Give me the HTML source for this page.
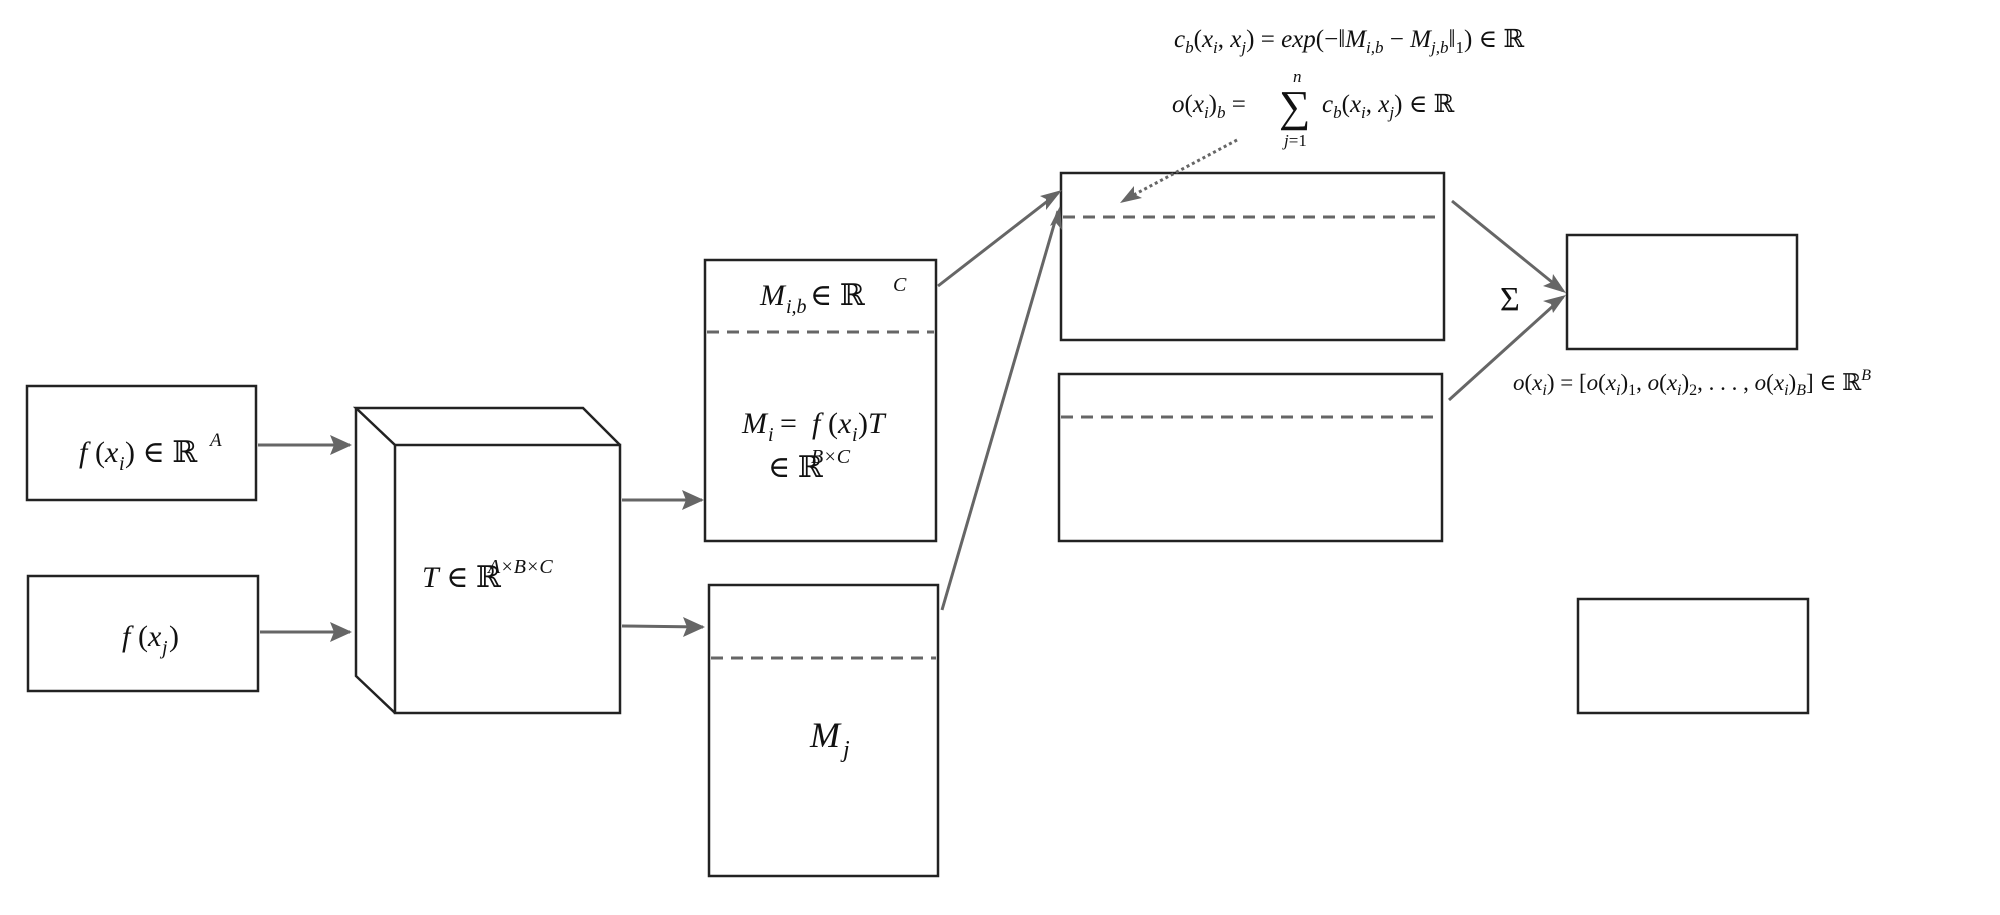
<!DOCTYPE html>
<html><head><meta charset="utf-8"><style>
html,body{margin:0;padding:0;background:#fff;}
svg{display:block;}
text{font-family:"Liberation Serif","DejaVu Serif",serif;fill:#111;}
.i{font-style:italic;}
</style></head><body>
<svg width="2000" height="915" viewBox="0 0 2000 915" xmlns="http://www.w3.org/2000/svg">
<defs>
<marker id="ah" markerWidth="10" markerHeight="10" refX="8" refY="5" orient="auto" markerUnits="userSpaceOnUse">
<path d="M0,0 L10,5 L0,10 L3,5 Z" fill="#666" transform="scale(2.2) translate(-4.5,-2.7)"/>
</marker>
</defs>
<g fill="none" stroke="#222" stroke-width="2.5">
<rect x="27" y="386" width="229" height="114"/>
<rect x="28" y="576" width="230" height="115"/>
<rect x="395" y="445" width="225" height="268"/>
<polyline points="395,445 356,408 583,408 620,445"/>
<polyline points="356,408 356,676 395,713"/>
<rect x="705" y="260" width="231" height="281"/>
<rect x="709" y="585" width="229" height="291"/>
<rect x="1061" y="173" width="383" height="167"/>
<rect x="1059" y="374" width="383" height="167"/>
<rect x="1567" y="235" width="230" height="114"/>
<rect x="1578" y="599" width="230" height="114"/>
</g>
<g stroke="#666" stroke-width="3" stroke-dasharray="12,8" fill="none">
<line x1="707" y1="332" x2="934" y2="332"/>
<line x1="711" y1="658" x2="936" y2="658"/>
<line x1="1063" y1="217" x2="1442" y2="217"/>
<line x1="1061" y1="417" x2="1440" y2="417"/>
</g>
<g stroke="#666" stroke-width="3" fill="none">
<line x1="258" y1="445" x2="350" y2="445"/>
<line x1="260" y1="632" x2="350" y2="632"/>
<line x1="622" y1="500" x2="702" y2="500"/>
<line x1="622" y1="626" x2="703" y2="627"/>
<line x1="938" y1="286" x2="1058" y2="193"/>
<line x1="942" y1="610" x2="1058" y2="211"/>
<line x1="1452" y1="201" x2="1563" y2="291"/>
<line x1="1449" y1="400" x2="1563" y2="297"/>
<line x1="1237" y1="140" x2="1126" y2="199" stroke-dasharray="3,3"/>
</g>
<g fill="#666">
<polygon points="352,445 330,435 334,445 330,455"/>
<polygon points="352,632 330,622 334,632 330,642"/>
<polygon points="704,500 682,490 686,500 682,510"/>
<polygon points="705,627 683,617 687,627 683,637"/>
<polygon points="1062,190 1040,196 1046,199 1046,210" />
<polygon points="1060,206 1050,226 1056,223 1062,230"/>
<polygon points="1566,293 1553,274 1552,282 1543,286"/>
<polygon points="1566,295 1543,301 1551,304 1553,313"/>
<polygon points="1120,203 1134,186 1134,194 1142,198"/>
</g>
<g font-size="30">
<text x="79" y="462" class="i">f</text><text x="95" y="462">(</text><text x="105" y="462" class="i">x</text><text x="119" y="470" font-size="20" class="i">i</text><text x="125" y="462">) ∈ ℝ</text><text x="210" y="446" font-size="19" class="i">A</text>
<text x="122" y="646" class="i">f</text><text x="138" y="646">(</text><text x="148" y="646" class="i">x</text><text x="162" y="654" font-size="20" class="i">j</text><text x="169" y="646">)</text>
<text x="422" y="587" font-size="30"><tspan class="i">T</tspan> ∈ ℝ</text><text x="488" y="573" font-size="20" class="i">A×B×C</text>
<text x="760" y="305" class="i">M</text><text x="786" y="313" font-size="20" class="i">i,b</text><text x="810" y="305"> ∈ ℝ</text><text x="893" y="291" font-size="20" class="i">C</text>
<text x="742" y="433" class="i">M</text><text x="768" y="441" font-size="20" class="i">i</text><text x="780" y="433"> = </text><text x="812" y="433" class="i">f</text><text x="828" y="433">(</text><text x="838" y="433" class="i">x</text><text x="852" y="441" font-size="20" class="i">i</text><text x="858" y="433">)</text><text x="868" y="433" class="i">T</text>
<text x="768" y="477">∈ ℝ</text><text x="811" y="463" font-size="20" class="i">B×C</text>
<text x="810" y="747" font-size="36" class="i">M</text><text x="843" y="757" font-size="24" class="i">j</text>
<text x="1500" y="310" font-size="34" font-family="DejaVu Sans, sans-serif">Σ</text>
</g>
<g font-size="25">
<text x="1174" y="47"><tspan class="i">c</tspan><tspan font-size="17" class="i" dy="6">b</tspan><tspan dy="-6">(</tspan><tspan class="i">x</tspan><tspan font-size="17" class="i" dy="6">i</tspan><tspan dy="-6">, </tspan><tspan class="i">x</tspan><tspan font-size="17" class="i" dy="6">j</tspan><tspan dy="-6">) = </tspan><tspan class="i">exp</tspan>(−‖<tspan class="i">M</tspan><tspan font-size="17" class="i" dy="6">i,b</tspan><tspan dy="-6"> − </tspan><tspan class="i">M</tspan><tspan font-size="17" class="i" dy="6">j,b</tspan><tspan dy="-6">‖</tspan><tspan font-size="17" dy="6">1</tspan><tspan dy="-6">) ∈ ℝ</tspan></text>
<text x="1172" y="112"><tspan class="i">o</tspan>(<tspan class="i">x</tspan><tspan font-size="17" class="i" dy="6">i</tspan><tspan dy="-6">)</tspan><tspan font-size="17" class="i" dy="6">b</tspan><tspan dy="-6"> = </tspan></text>
<text x="1279" y="121" font-size="44">∑</text>
<text x="1293" y="82" font-size="17" class="i">n</text>
<text x="1284" y="146" font-size="17"><tspan class="i">j</tspan>=1</text>
<text x="1322" y="112"><tspan class="i">c</tspan><tspan font-size="17" class="i" dy="6">b</tspan><tspan dy="-6">(</tspan><tspan class="i">x</tspan><tspan font-size="17" class="i" dy="6">i</tspan><tspan dy="-6">, </tspan><tspan class="i">x</tspan><tspan font-size="17" class="i" dy="6">j</tspan><tspan dy="-6">) ∈ ℝ</tspan></text>
<text x="1513" y="390" font-size="23"><tspan class="i">o</tspan>(<tspan class="i">x</tspan><tspan font-size="16" class="i" dy="5">i</tspan><tspan dy="-5">) = [</tspan><tspan class="i">o</tspan>(<tspan class="i">x</tspan><tspan font-size="16" class="i" dy="5">i</tspan><tspan dy="-5">)</tspan><tspan font-size="16" dy="5">1</tspan><tspan dy="-5">, </tspan><tspan class="i">o</tspan>(<tspan class="i">x</tspan><tspan font-size="16" class="i" dy="5">i</tspan><tspan dy="-5">)</tspan><tspan font-size="16" dy="5">2</tspan><tspan dy="-5">, . . . , </tspan><tspan class="i">o</tspan>(<tspan class="i">x</tspan><tspan font-size="16" class="i" dy="5">i</tspan><tspan dy="-5">)</tspan><tspan font-size="16" class="i" dy="5">B</tspan><tspan dy="-5">] ∈ ℝ</tspan><tspan font-size="16" class="i" dy="-10">B</tspan></text>
</g>
</svg>
</body></html>
